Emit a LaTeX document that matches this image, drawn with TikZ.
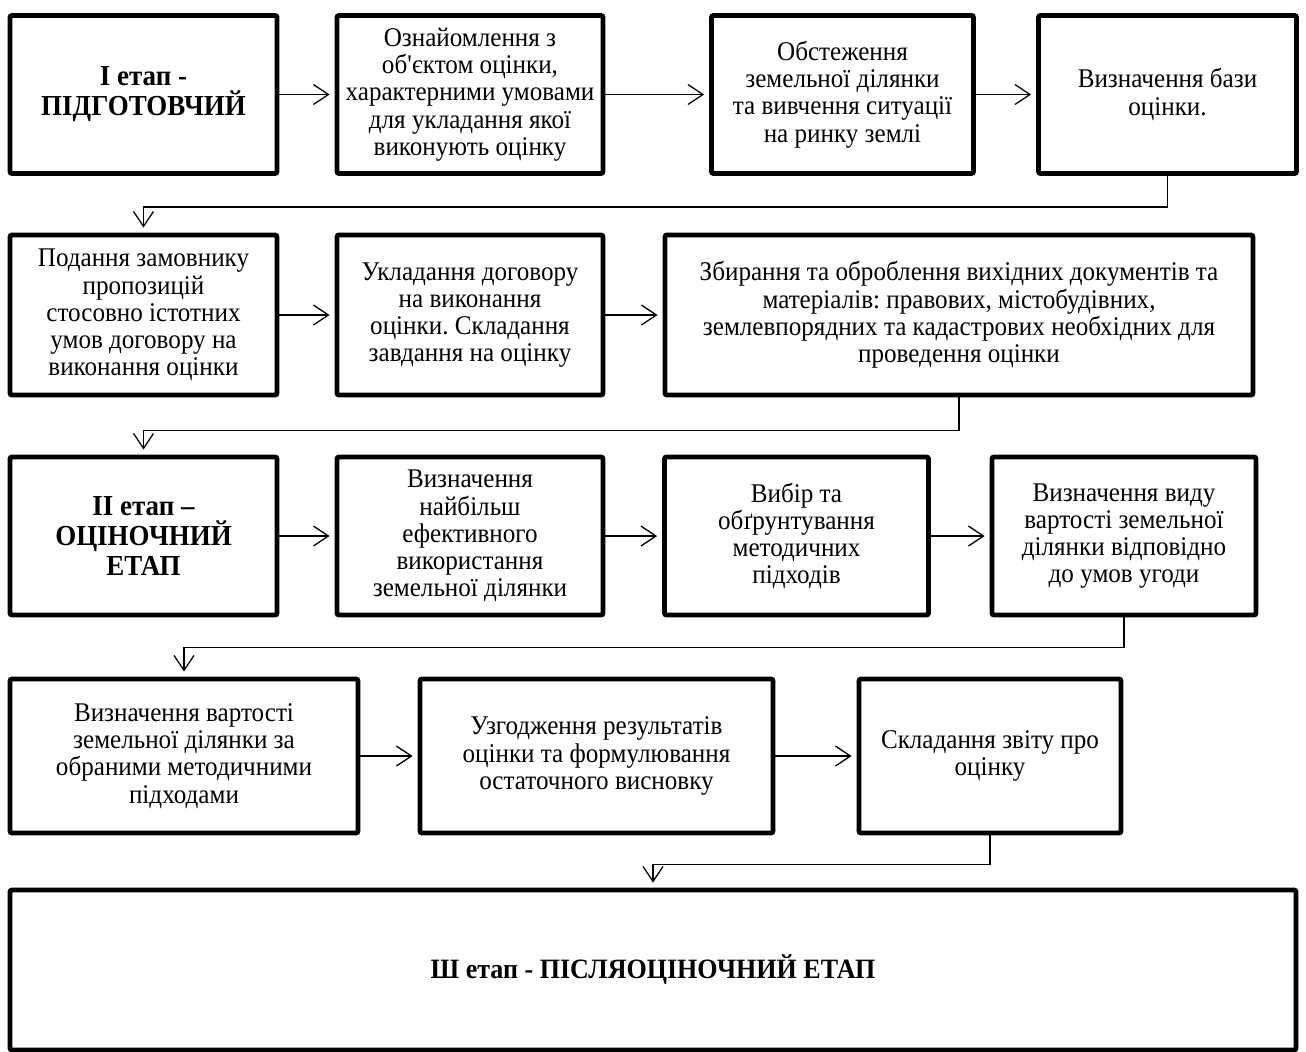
\documentclass[tikz,border=0pt]{standalone}
\usepackage{fontspec}
\setmainfont[FakeStretch=0.93]{Liberation Serif}
\usepackage{tikz}
\usetikzlibrary{arrows.meta, positioning, calc}
\frenchspacing
\tikzset{
  stagebox/.style={rectangle,rounded corners=1pt,draw=black,line width=2.4pt,fill=white,align=center,inner sep=2pt,font=\fontsize{14.5}{15}\selectfont\bfseries},
  taskbox/.style={rectangle,rounded corners=1pt,draw=black,line width=2.4pt,fill=white,align=center,inner sep=2pt,font=\fontsize{13.5}{13.6}\selectfont},
  arr/.style={-{Straight Barb[length=7.5pt,width=10pt]},line width=0.65pt,shorten >=2.5pt}
}

\begin{document}
\begin{tikzpicture}[x=0.5pt, y=-0.5pt]
  \useasboundingbox (0,0) rectangle (1306,1051);

  % I etap
  \node[stagebox,minimum width=133.5pt,minimum height=79pt] (a1) at (143.5,94.5) {I етап -\\ПІДГОТОВЧИЙ};
  \node[taskbox,minimum width=133pt,minimum height=79pt] (a2) at (470,94.5)
    {Ознайомлення з\\об\textquotesingle єктом оцінки,\\характерними умовами\\для укладання якої\\виконують оцінку};
  \node[taskbox,minimum width=131pt,minimum height=79pt] (a3) at (842.5,94.5)
    {Обстеження\\земельної ділянки\\та вивчення ситуації\\на ринку землі};
  \node[taskbox,minimum width=129pt,minimum height=79pt] (a4) at (1167.5,94.5)
    {Визначення бази\\оцінки.};

  \draw[arr] (a1) -- (a2);
  \draw[arr] (a2) -- (a3);
  \draw[arr] (a3) -- (a4);

  % row 2
  \node[taskbox,minimum width=133.5pt,minimum height=80pt] (b1) at (143.5,315)
    {Подання замовнику\\пропозицій\\стосовно істотних\\умов договору на\\виконання оцінки};
  \node[taskbox,minimum width=133pt,minimum height=80pt] (b2) at (470,315)
    {Укладання договору\\на виконання\\оцінки. Складання\\завдання на оцінку};
  \node[taskbox,minimum width=294pt,minimum height=80pt] (b3) at (959,315)
    {Збирання та оброблення вихідних документів та\\матеріалів: правових, містобудівних,\\землевпорядних та кадастрових необхідних для\\проведення оцінки};

  \draw[arr] (a4.south) -- ++(0,31) -| (b1.north);
  \draw[arr] (b1) -- (b2);
  \draw[arr] (b2) -- (b3);

  % II etap
  \node[stagebox,minimum width=133.5pt,minimum height=79pt] (c1) at (143.5,536) {II етап –\\ОЦІНОЧНИЙ\\ЕТАП};
  \node[taskbox,minimum width=133pt,minimum height=79pt] (c2) at (470,536)
    {Визначення\\найбільш\\ефективного\\використання\\земельної ділянки};
  \node[taskbox,minimum width=132pt,minimum height=79pt] (c3) at (796.5,536)
    {Вибір та\\обґрунтування\\методичних\\підходів};
  \node[taskbox,minimum width=132pt,minimum height=79pt] (c4) at (1124,536)
    {Визначення виду\\вартості земельної\\ділянки відповідно\\до умов угоди};

  \draw[arr] (b3.south) -- ++(0,33) -| (c1.north);
  \draw[arr] (c1) -- (c2);
  \draw[arr] (c2) -- (c3);
  \draw[arr] (c3) -- (c4);

  % row 4
  \node[taskbox,minimum width=174pt,minimum height=77pt] (d1) at (184,756)
    {Визначення вартості\\земельної ділянки за\\обраними методичними\\підходами};
  \node[taskbox,minimum width=176.5pt,minimum height=77pt] (d2) at (596.5,756)
    {Узгодження результатів\\оцінки та формулювання\\остаточного висновку};
  \node[taskbox,minimum width=131pt,minimum height=77pt] (d3) at (990,756)
    {Складання звіту про\\оцінку};

  \draw[arr] (c4.south) -- ++(0,30) -| (d1.north);
  \draw[arr] (d1) -- (d2);
  \draw[arr] (d2) -- (d3);

  % III etap
  \node[stagebox,font=\fontsize{14}{15}\selectfont\bfseries,minimum width=643pt,minimum height=80pt] (e) at (653,970)
    {Ш етап - ПІСЛЯОЦІНОЧНИЙ ЕТАП};

  \draw[arr] (d3.south) -- ++(0,29) -| (e.north);
\end{tikzpicture}
\end{document}
